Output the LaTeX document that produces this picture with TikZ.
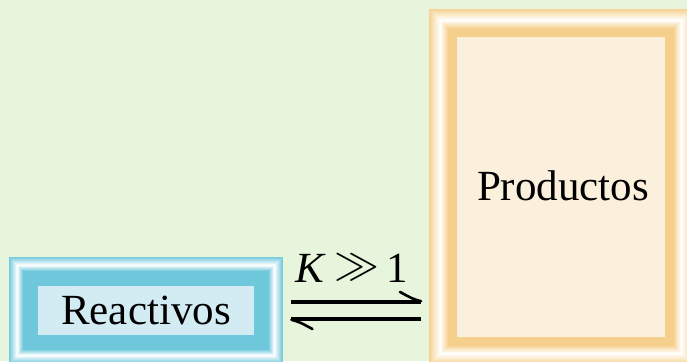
\documentclass[tikz,border=0pt]{standalone}
\usepackage{fontspec}
\usepackage{graphicx}
\setmainfont{Liberation Serif}
\usetikzlibrary{calc}
\definecolor{bgc}{RGB}{232,245,221}
\definecolor{blueband}{RGB}{111,199,219}
\definecolor{blueinner}{RGB}{211,236,243}
\definecolor{orband}{RGB}{245,208,140}
\definecolor{orinner}{RGB}{251,240,219}
% #1 x1, #2 y1 (bottom), #3 x2, #4 y2 (top), #5 gradient width, #6 band width, #7 band colour, #8 inner colour
\newcommand\myshadedframe[8]{%
  \pgfmathtruncatemacro\myN{#5}%
  \pgfmathtruncatemacro\myK{0.6*#5}%
  \foreach \i in {0,...,\myN} {
    \pgfmathtruncatemacro\p{\i<\myK ? 95-95*\i/\myK : 100*(\i-\myK)/(\myN-\myK)}
    \fill[#7!\p!white] (#1+\i,#2+\i) rectangle (#3-\i,#4-\i);
  }
  \fill[#7] (#1+#5,#2+#5) rectangle (#3-#5,#4-#5);
  \fill[#8] (#1+#5+#6,#2+#5+#6) rectangle (#3-#5-#6,#4-#5-#6);
}
\tikzset{
  lbl/.style={font=\fontsize{43}{50}\selectfont, inner sep=0pt, anchor=base},
  harp/.style={line width=3.3pt, line cap=butt},
  hook/.style={line width=2.6pt, line cap=round},
}
\begin{document}
\begin{tikzpicture}[x=1pt,y=1pt]
  \useasboundingbox (0,0) rectangle (687,361);
  \clip (0,0) rectangle (687,361);
  \fill[bgc] (0,0) rectangle (687,361);
  % frames
  \myshadedframe{9}{-3}{283}{104}{14}{15}{blueband}{blueinner}
  \myshadedframe{429}{-4}{693}{352}{19}{9}{orband}{orinner}
  \node[inner sep=0pt, minimum width=274pt, minimum height=107pt, anchor=south west] (reac) at (9,-3) {};
  \node[inner sep=0pt, minimum width=264pt, minimum height=356pt, anchor=south west] (prod) at (429,-4) {};
  % labels
  \node[lbl] (reactxt) at (146,36) {Reactivos};
  \node[lbl] (prodtxt) at (563,160) {Productos};
  \node[lbl] (keq) at (352,78) {\textit{K}\hspace{8pt}\raisebox{4pt}{\scalebox{1.8}{$\gg$}}\hspace{8pt}1};
  % equilibrium harpoons
  \coordinate (t1) at ($(reac.east |- 0,59)+(8,0)$);
  \coordinate (t2) at ($(prod.west |- 0,59)+(-8,0)$);
  \coordinate (b1) at ($(reac.east |- 0,42)+(8,0)$);
  \coordinate (b2) at ($(prod.west |- 0,42)+(-8,0)$);
  \draw[harp] (t1) -- (t2);
  \draw[hook] ($(t2)+(0,0.8)$) .. controls ($(t2)+(-8,3)$) .. ($(t2)+(-21,10)$);
  \draw[harp] (b2) -- (b1);
  \draw[hook] ($(b1)+(0,-0.8)$) .. controls ($(b1)+(8,-3)$) .. ($(b1)+(21,-10)$);
\end{tikzpicture}
\end{document}
